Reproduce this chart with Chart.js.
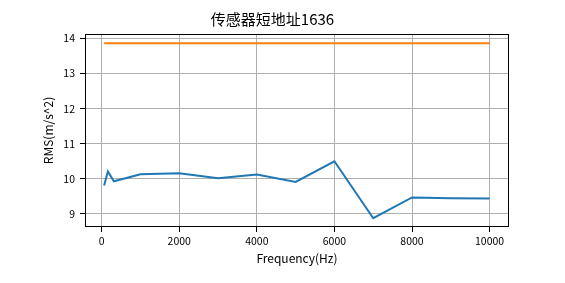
<!DOCTYPE html>
<html>
<head>
<meta charset="utf-8">
<script src="https://cdn.jsdelivr.net/npm/chart.js@4/dist/chart.umd.min.js"></script>
<style>
  html, body { margin: 0; padding: 0; background: #fff; }
  #wrap { width: 565px; height: 283px; }
</style>
</head>
<body>
<div id="wrap"><canvas id="c" width="565" height="283"></canvas></div>
<script>
// ── DATA ───────────────────────────────────────────────────────
const FREQ   = [63, 160, 315, 1000, 2000, 3000, 4000, 5000, 6000, 7000, 8000, 9000, 10000];
const RMS    = [9.81, 10.21, 9.93, 10.13, 10.16, 10.02, 10.12, 9.91, 10.50, 8.88, 9.47, 9.45, 9.44];
const LIMIT  = [13.86, 13.86, 13.86, 13.86, 13.86, 13.86, 13.86, 13.86, 13.86, 13.86, 13.86, 13.86, 13.86];
const X_TICKS = [0, 2000, 4000, 6000, 8000, 10000];
const Y_TICKS = [9, 10, 11, 12, 13, 14];

const TITLE   = '传感器短地址1636';
const X_LABEL = 'Frequency(Hz)';
const Y_LABEL = 'RMS(m/s^2)';

// ── STYLE ──────────────────────────────────────────────────────
const FONT_FAMILY = "'Noto Sans CJK SC', 'DejaVu Sans', sans-serif";
const GRID_COLOR  = '#b0b0b0';
const TICK_FONT   = { family: FONT_FAMILY, size: 10.5 };
const LABEL_FONT  = { family: FONT_FAMILY, size: 12 };

const toPoints = (xs, ys) => xs.map((x, i) => ({ x, y: ys[i] }));

// all four spines, drawn once so they line up
const frame = {
  id: 'frame',
  afterDatasetsDraw(chart) {
    const { ctx, chartArea: a } = chart;
    const l = Math.round(a.left), t = Math.round(a.top);
    const r = Math.round(a.right), b = Math.round(a.bottom);
    ctx.save();
    ctx.strokeStyle = '#000';
    ctx.lineWidth = 1;
    ctx.strokeRect(l + 0.5, t + 0.5, r - l - 1, b - t - 1);
    ctx.restore();
  },
};

new Chart(document.getElementById('c').getContext('2d'), {
  type: 'line',
  data: {
    datasets: [
      {
        data: toPoints(FREQ, RMS),
        borderColor: '#1f77b4',
        borderWidth: 2,
        pointRadius: 0,
        tension: 0,
      },
      {
        data: toPoints(FREQ, LIMIT),
        borderColor: '#ff7f0e',
        borderWidth: 2,
        pointRadius: 0,
        tension: 0,
      },
    ],
  },
  options: {
    responsive: false,
    animation: false,
    layout: { padding: { left: 36, right: 56, top: 0, bottom: 0 } },
    plugins: {
      legend: { display: false },
      tooltip: { enabled: false },
      title: {
        display: true,
        text: TITLE,
        color: '#000',
        font: { family: FONT_FAMILY, size: 15, weight: 'normal' },
        padding: { top: 10.5, bottom: 5.5 },
      },
    },
    scales: {
      x: {
        type: 'linear',
        min: -430,
        max: 10500,
        afterBuildTicks: s => { s.ticks = X_TICKS.map(v => ({ value: v })); },
        afterFit: s => { s.height = 56; },
        ticks: { color: '#000', font: TICK_FONT, padding: 3, maxRotation: 0, callback: v => String(v) },
        grid: { color: GRID_COLOR, tickColor: '#000', tickLength: 5, lineWidth: 1 },
        border: { display: false },
        title: { display: true, text: X_LABEL, color: '#000', font: LABEL_FONT, padding: { top: 2, bottom: 17 } },
      },
      y: {
        min: 8.63,
        max: 14.12,
        afterBuildTicks: s => { s.ticks = Y_TICKS.map(v => ({ value: v })); },
        afterFit: s => { s.width = 49; },
        ticks: { color: '#000', font: TICK_FONT, padding: 5, callback: v => String(v) },
        grid: { color: GRID_COLOR, tickColor: '#000', tickLength: 5, lineWidth: 1 },
        border: { display: false },
        title: { display: true, text: Y_LABEL, color: '#000', font: LABEL_FONT, padding: { top: 5, bottom: 2 } },
      },
    },
  },
  plugins: [frame],
});
</script>
</body>
</html>
